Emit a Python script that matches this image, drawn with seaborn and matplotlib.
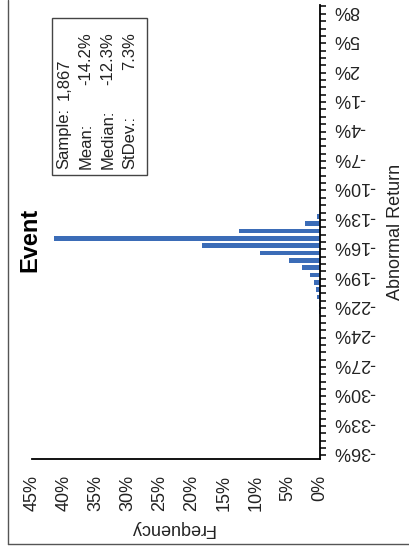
import numpy as np
import pandas as pd
import matplotlib
matplotlib.use("Agg")
import matplotlib.pyplot as plt
from matplotlib.patches import Rectangle
from matplotlib.lines import Line2D
import seaborn as sns

# histogram bins (index 0 = lowest return bin), frequency in % of sample
bin_index = list(range(62))
frequency = [0.0] * 62
nonzero = {18: 0.05, 19: 0.1, 20: 0.2, 21: 0.4, 22: 0.7, 23: 1.0, 24: 1.5,
           25: 2.8, 26: 4.8, 27: 9.4, 28: 18.5, 29: 41.6, 30: 12.7, 31: 2.3,
           32: 0.5}
for k, v in nonzero.items():
    frequency[k] = v

return_labels = ["-36%", "-33%", "-30%", "-27%", "-24%", "-22%", "-19%", "-16%",
                 "-13%", "-10%", "-7%", "-4%", "-1%", "2%", "5%", "8%"]
freq_ticks = [0, 5, 10, 15, 20, 25, 30, 35, 40, 45]

stat_names = ["Sample:", "Mean:", "Median:", "StDev.:"]
stat_values = ["1,867", "-14.2%", "-12.3%", "7.3%"]

W, H = 409, 552
def fx(px):
    return px / W
def fy(py):
    return 1 - py / H

sns.set_theme(style="white")
plt.rcParams["font.family"] = ["Liberation Sans", "DejaVu Sans"]

fig = plt.figure(figsize=(W / 100, H / 100), dpi=100)
ax = fig.add_axes([fx(32), fy(459), fx(320) - fx(32), fy(5) - fy(459)])

df = pd.DataFrame({"bin": bin_index, "freq": frequency})
sns.barplot(data=df, x="freq", y="bin", orient="h", color="#3b6cb7",
            saturation=1, width=0.64, linewidth=0, ax=ax)

ax.set_xlim(45, 0)
ax.set_ylim(-1, 60.7)

for s in ["top", "left"]:
    ax.spines[s].set_visible(False)
for s in ["right", "bottom"]:
    ax.spines[s].set_color("black")
    ax.spines[s].set_linewidth(1.3)

# return axis (right side)
ax.yaxis.tick_right()
ax.set_yticks(range(0, 61, 4))
ax.set_yticklabels(return_labels, rotation=180, va="center", ha="left")
ax.set_yticks(np.arange(-0.5, 60.6, 1), minor=True)
ax.tick_params(axis="y", which="major", length=0, pad=9.5, labelsize=13,
               labelcolor="#222222")
ax.tick_params(axis="y", which="minor", length=4.5, width=1.1,
               direction="out", color="black")

# frequency axis (bottom)
ax.set_xticks(freq_ticks)
ax.set_xticklabels([f"{v}%" for v in freq_ticks], rotation=90)
ax.tick_params(axis="x", which="major", length=5, width=1.1,
               direction="out", color="black", pad=6.5, labelsize=13,
               labelcolor="#222222")
ax.set_xlabel("")
ax.set_ylabel("")

fig.text(fx(172), fy(528), "Frequency", rotation=180, ha="center",
         va="center", fontsize=13, color="#222222")
fig.text(fx(396), fy(232), "Abnormal Return", rotation=90, ha="center",
         va="center", fontsize=13, color="#222222")
fig.text(fx(30), fy(240), "Event", rotation=90, ha="center", va="center",
         fontsize=17, fontweight="bold", color="black")

# stats box
fig.patches.append(Rectangle((fx(52), fy(175)), fx(147) - fx(52),
                             fy(18) - fy(175), transform=fig.transFigure,
                             fill=False, edgecolor="#444444", linewidth=1))
for i, (n, v) in enumerate(zip(stat_names, stat_values)):
    x = fx(64 + 22 * i)
    fig.text(x, fy(169), n, rotation=90, ha="center", va="bottom",
             fontsize=12, color="#222222")
    if i == 0:
        fig.text(x, fy(100), v, rotation=90, ha="center", va="bottom",
                 fontsize=12, color="#222222")
    else:
        fig.text(x, fy(32), v, rotation=90, ha="center", va="top",
                 fontsize=12, color="#222222")

# outer frame (only left and bottom edges fall inside the picture)
fig.lines.append(Line2D([fx(8), fx(8)], [fy(544), 1.0],
                        transform=fig.transFigure, color="#555555", lw=1))
fig.lines.append(Line2D([fx(8), 1.0], [fy(544), fy(544)],
                        transform=fig.transFigure, color="#555555", lw=1))

fig.savefig("out.png", dpi=100)
